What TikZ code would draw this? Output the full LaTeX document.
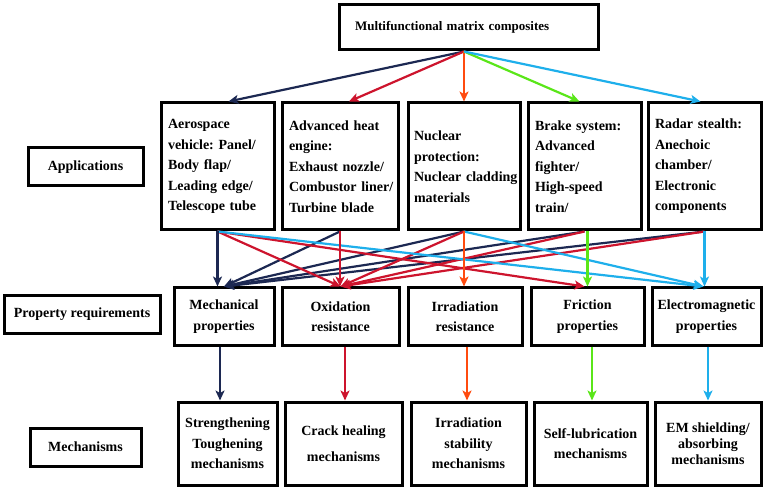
\documentclass[tikz,border=0pt]{standalone}
\usepackage{fontspec}
\setmainfont{Liberation Serif}
\usetikzlibrary{arrows.meta}
\definecolor{cnavy}{RGB}{28,40,82}
\definecolor{ccrim}{RGB}{205,20,45}
\definecolor{corange}{RGB}{255,75,15}
\definecolor{cgreen}{RGB}{90,230,25}
\definecolor{ccyan}{RGB}{30,175,235}
\begin{document}
\begin{tikzpicture}[x=1pt,y=-1pt,
  box/.style={draw=black, line width=3pt, fill=white, inner sep=0pt,
    font=\bfseries\fontsize{14}{20.5}\selectfont},
  appbox/.style={box, minimum height=127pt, align=left},
  propbox/.style={box, minimum height=57pt, align=center},
  mechbox/.style={box, minimum height=83pt, align=center},
  labbox/.style={box, minimum height=38pt, align=center},
  conn/.style={line width=2.2pt, -{Stealth[length=10pt,width=9pt,inset=2.5pt]}}
]
\useasboundingbox (0,0) rectangle (769,489);

% title
\node[box, minimum width=259pt, minimum height=45pt, text width=227pt, align=left,
  font=\bfseries\fontsize{13}{16}\selectfont] (T) at (468.5,27.5) {Multifunctional~matrix~composites};

% row labels
\node[labbox, minimum width=115pt] (LA) at (85.5,167) {Applications};
\node[labbox, minimum width=156pt] (LP) at (82,314.5) {Property~requirements};
\node[labbox, minimum width=111pt] (LM) at (85.5,447) {Mechanisms};

% applications
\node[appbox, minimum width=113pt, text width=99pt] (A1) at (217.5,166.5)
  {Aerospace\\vehicle:~Panel/\\Body~flap/\\Leading~edge/\\Telescope~tube};
\node[appbox, minimum width=116pt, text width=102pt] (A2) at (340,166.5)
  {Advanced~heat\\engine:\\Exhaust~nozzle/\\Combustor~liner/\\Turbine~blade};
\node[appbox, minimum width=112pt, text width=100pt] (A3) at (464,166.5)
  {Nuclear\\protection:\\Nuclear~cladding\\materials};
\node[appbox, minimum width=113pt, text width=99pt] (A4) at (584.5,166.5)
  {Brake~system:\\Advanced\\fighter/\\High-speed\\train/};
\node[appbox, minimum width=113pt, text width=99pt] (A5) at (704.5,166.5)
  {Radar~stealth:\\Anechoic\\chamber/\\Electronic\\components};

% properties
\node[propbox, minimum width=100pt] (P1) at (224,316.5) {Mechanical\\properties};
\node[propbox, minimum width=117pt] (P2) at (340.5,316.5) {Oxidation\\resistance};
\node[propbox, minimum width=114pt] (P3) at (465,316.5) {Irradiation\\resistance};
\node[propbox, minimum width=113pt] (P4) at (587.5,316.5) {Friction\\properties};
\node[propbox, minimum width=109pt] (P5) at (706.5,316.5) {Electromagnetic\\properties};

% mechanisms
\node[mechbox, minimum width=99pt] (M1) at (227.5,443.5) {Strengthening\\Toughening\\mechanisms};
\node[mechbox, minimum width=117pt] (M2) at (343.5,443.5) {Crack~healing\\[6pt]mechanisms};
\node[mechbox, minimum width=115pt] (M3) at (468.5,443.5) {Irradiation\\stability\\mechanisms};
\node[mechbox, minimum width=113pt] (M4) at (590.5,443.5) {Self-lubrication\\mechanisms};
\node[mechbox, minimum width=106pt, font=\bfseries\fontsize{14}{16}\selectfont] (M5) at (708,443.5) {EM~shielding/\\absorbing\\mechanisms};

% title to applications
\coordinate (top) at (A3.north |- T.south);
\draw[conn, cnavy] (top) -- ([xshift=11pt]A1.north);
\draw[conn, ccrim] (top) -- ([xshift=9pt]A2.north);
\draw[conn, corange] (top) -- (A3.north);
\draw[conn, cgreen] (top) -- ([xshift=-5pt]A4.north);
\draw[conn, ccyan] (top) -- ([xshift=-4pt]A5.north);

% diagonal application -> property connectors
\foreach \s in {A2,A3,A4,A5} \draw[conn, cnavy] (\s.south) -- (P1.north);
\foreach \s in {A1,A3,A4,A5} \draw[conn, ccrim] (\s.south) -- (P2.north);
\draw[conn, ccrim] (A1.south) -- ([xshift=-3pt]P4.north);
\draw[conn, ccyan] (A1.south) -- ([xshift=-3pt]P5.north);
\draw[conn, ccyan] (A3.south) -- ([xshift=-3pt]P5.north);

% vertical application -> property connectors
\draw[conn, cnavy] (A1.south) -- (A1.south |- P1.north);
\draw[conn, ccrim] (A2.south) -- (A2.south |- P2.north);
\draw[conn, corange] (A3.south) -- (A3.south |- P3.north);
\draw[conn, cgreen] (P4.north |- A4.south) -- (P4.north);
\draw[conn, ccyan] (A5.south) -- (A5.south |- P5.north);

% property -> mechanism
\draw[conn, cnavy] ([xshift=-4pt]P1.south) -- ([xshift=-4pt]P1.south |- M1.north);
\draw[conn, ccrim] ([xshift=4.5pt]P2.south) -- ([xshift=4.5pt]P2.south |- M2.north);
\draw[conn, corange] ([xshift=2pt]P3.south) -- ([xshift=2pt]P3.south |- M3.north);
\draw[conn, cgreen] ([xshift=4.5pt]P4.south) -- ([xshift=4.5pt]P4.south |- M4.north);
\draw[conn, ccyan] ([xshift=1.5pt]P5.south) -- ([xshift=1.5pt]P5.south |- M5.north);
\end{tikzpicture}
\end{document}
